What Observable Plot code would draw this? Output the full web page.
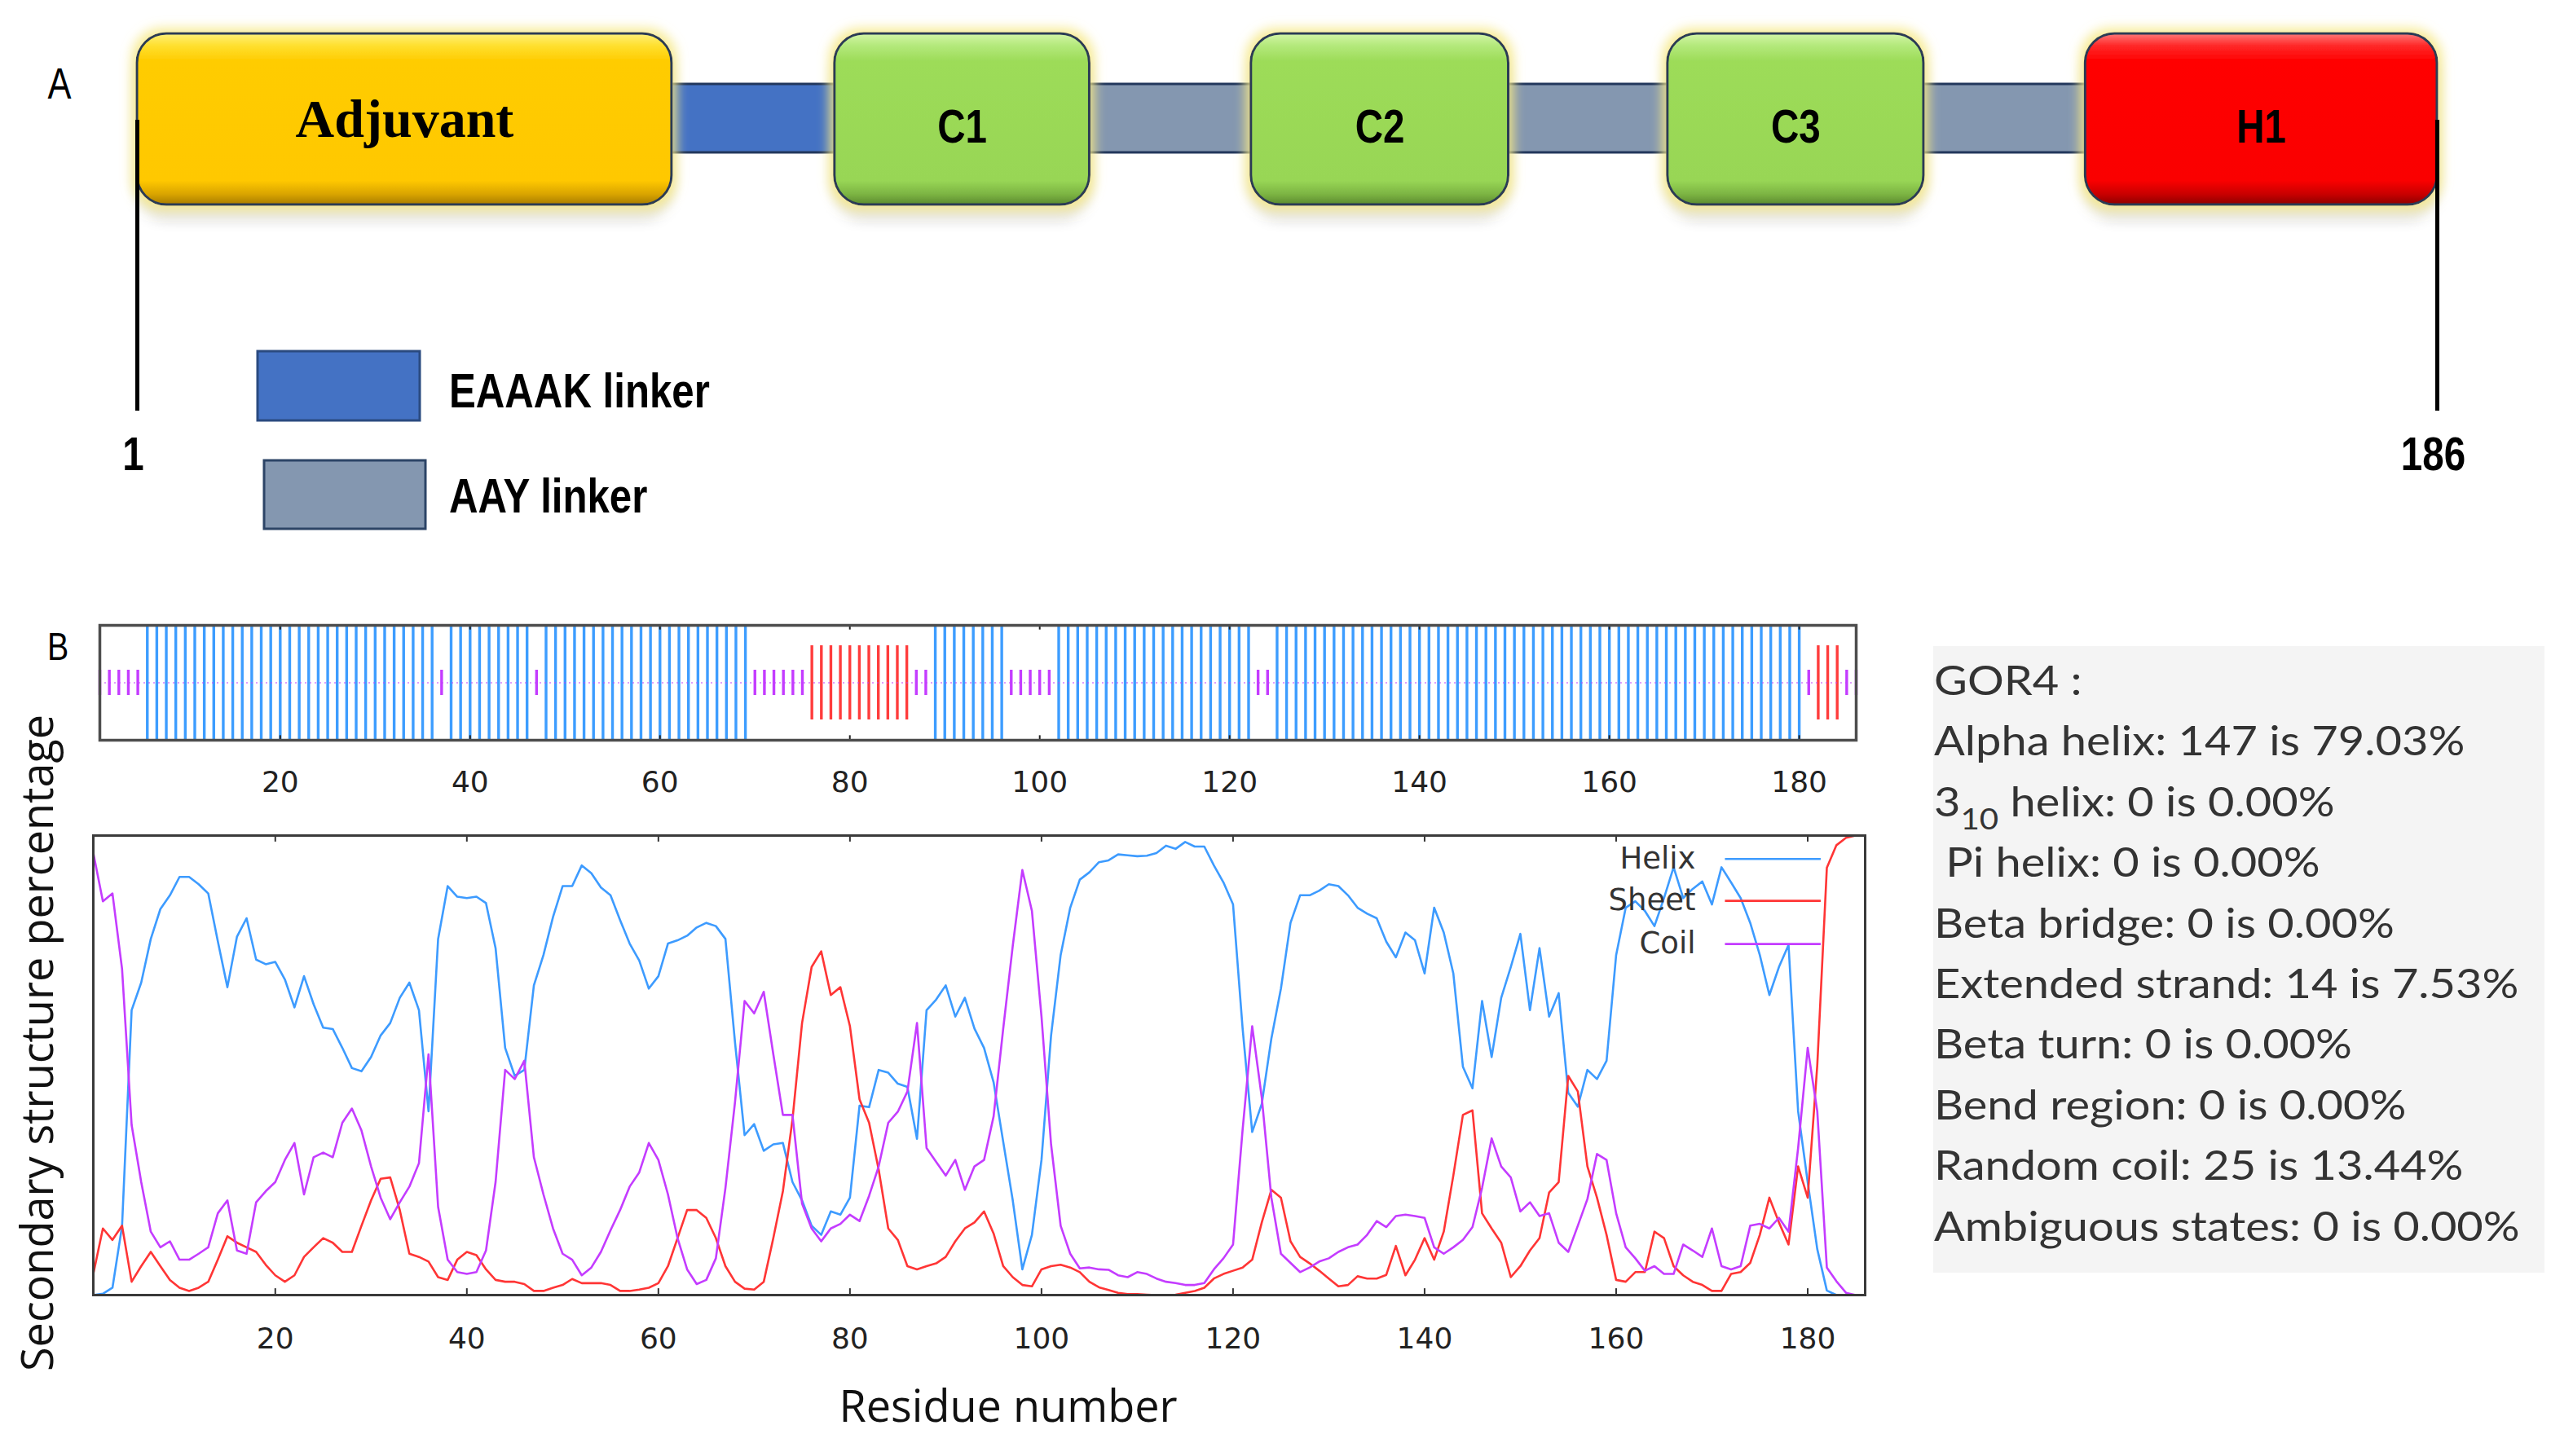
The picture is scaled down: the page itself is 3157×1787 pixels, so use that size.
<!DOCTYPE html>
<html><head><meta charset="utf-8">
<script src="https://cdn.jsdelivr.net/npm/d3@7"></script>
<script src="https://cdn.jsdelivr.net/npm/@observablehq/plot@0.6"></script>
<style>
html,body{margin:0;padding:0;background:#fff;overflow:hidden}
#page{position:relative;width:3157px;height:1787px;background:#fff}
.layer{position:absolute;left:0}
</style></head><body><div id="page"></div>
<script>
// ---------------- DATA ----------------
// Panel A: construct schematic (segment ends in residue units along the 1..186 bar)
const domainNames = ["Adjuvant", "EAAAK linker", "C1", "AAY linker", "C2", "AAY linker", "C3", "AAY linker", "H1"];
const domainKinds = ["adjuvant", "eaaak", "ctl", "aay", "ctl", "aay", "ctl", "aay", "htl"];
const domainEnds  = [44.0, 57.1, 77.6, 90.6, 111.3, 124.1, 144.7, 157.7, 186];
const sequenceEnds = [1, 186];
const legendNames = ["EAAAK linker", "AAY linker"];

// Panel B: secondary-structure strip (run-length segments)
const stripStates = ["C","H","C","H","C","H","C","E","C","H","C","H","C","H","C","E","C"];
const stripStarts = [1, 6, 37, 38, 47, 48, 70, 76, 87, 89, 97, 102, 123, 125, 181, 182, 185];
const stripEnds   = [5, 36, 37, 46, 47, 69, 75, 86, 88, 96, 101, 122, 124, 180, 181, 184, 186];

// Panel B: per-residue probabilities (%), residues 1..186
const seriesNames = ["Helix", "Sheet", "Coil"];
const helix = [0,0.3,1.6,15,62,68,77.5,84,87,91,
  91,89.4,87.4,77,67,78,82,73,72,72.5,
  68.7,62.6,69.4,63.3,58.2,57.9,53.8,49.4,48.7,51.8,
  56.5,59.2,64.7,68,62,40,77.5,89,86.7,86.4,
  86.7,85.3,75.5,53.8,47.7,49,67.4,74,82.3,89,
  89,93.5,91.8,88.7,87,81.6,76.5,72.8,66.7,69.4,
  76.5,77.2,78.2,80,81,80.3,77.5,55,34.8,37.2,
  31.4,32.8,33.1,24.6,20.6,15.1,13.1,18.2,17.5,21.2,
  41.2,40.9,49,48.4,46,45.3,34,62,64.3,67.4,
  60.6,64.7,58,53.8,46.3,33.4,20.6,5.6,13.1,29.4,
  56.5,74,84.3,90.4,92,94.2,94.6,95.9,95.7,95.5,
  95.6,96.2,97.8,97.1,98.6,97.6,97.6,93.5,89.8,85,
  58,35.5,41.6,55.8,66.7,81,87,87,88,89.4,
  89,87,84.3,83,82,76.9,73.5,78.9,77.2,70,
  84.3,78.9,70,49.7,45,64,51.8,64.7,71.4,78.6,
  62,75.5,60.6,65.7,44,41,49,47,51,74,
  84.3,85.7,83.6,80.3,86.4,93.1,86.4,88.4,90,85,
  93.1,89.8,86.4,81,74,65.3,71.4,76.2,40,24.6,
  10,1,0,0,0,0];
const sheet = [4.6,14.5,12,15.1,2.9,6.3,9.4,6.3,3.3,1.6,
  0.9,1.6,2.9,7.7,12.8,11.4,10.4,9.4,6.6,4.3,
  2.9,4.3,8.3,10.4,12.4,11.4,9.4,9.4,15.1,20.6,
  25.3,25.6,18.5,9,8.3,7.3,3.9,3.3,7.7,9.4,
  8.7,5.6,3.3,2.9,2.9,2.4,0.9,0.9,1.6,2.2,
  3.5,2.6,2.6,2.6,2.2,0.9,0.9,1.2,1.6,2.6,
  6.3,12.4,18.5,18.5,16.8,12.4,6.3,2.9,1.4,1.2,
  2.9,12.4,22.6,38.2,59.2,71.4,74.8,65.3,67,58.5,
  42.6,37.5,27.3,14.5,12,6.3,5.6,6.3,6.9,8.3,
  11.7,14.5,15.8,18.2,13.4,6.3,3.9,2.2,1.9,5.6,
  6.3,6.6,6,5,2.9,1.7,1.1,0.5,0.2,0.2,
  0.1,0,0,0.1,0.5,0.9,1.6,3.6,4.6,5.3,
  6,7.7,15.8,22.9,21.2,11.7,8.3,6.9,5.3,3.6,
  1.9,2.2,4.1,3.6,3.6,4.4,10.7,4.3,7.7,12.4,
  7.7,13.8,26,39.2,40.2,17.8,14.5,11.4,3.9,6.3,
  9.7,12.4,22.3,24.6,47.7,44.3,28,21.2,13.1,3.3,
  2.9,5,5,13.8,12.4,6.3,4.3,2.9,2.2,0.9,
  0.9,4.6,5,7,13.1,21.2,15.8,11,28,21.2,
  50,93,97.9,99.5,100,100];
const coil = [96.2,85.7,87.4,71,37,24.6,13.8,10.4,11.7,7.7,
  7.7,9,10.4,17.8,20.6,9.7,9,20.2,22.6,24.6,
  29.4,33.1,21.9,30,31,30,37.5,40.6,35.8,28,
  21.2,16.5,20.2,23.6,28.7,52.4,19.2,7.7,5,4.6,
  5,9.7,24.6,49,47,51,30,21.9,14.5,9,
  7.7,4.3,6,9.4,14.1,18.5,23.6,26.7,33.1,29.4,
  21.9,12.4,5.6,2.4,3.3,8,23.3,42,64,61.3,
  66,52.4,39.2,39.2,19.9,14.5,11.7,14.5,15.5,17.5,
  16.1,21.6,28,37.5,39.9,44.3,59.2,32,29,26,
  29.4,22.9,28,29.4,38.9,57.9,76,92.5,83.6,60.6,
  32.8,15.1,9,5.8,6,5.6,5.5,4.3,3.9,5,
  4.6,3.6,2.9,2.6,2.2,2.2,2.6,5.6,8,11,
  36,58.5,43,21.2,9,7,5,6,7.3,8,
  9.4,10.4,11,13.1,16.1,14.8,17.2,17.5,17.2,16.8,
  10.4,9,10.4,12,14.8,23.3,34.1,28,25.6,18.2,
  20.2,17.2,17.8,11.4,9.4,15.1,20.9,30.7,29.4,17.8,
  10.4,8,5.3,6.3,4.6,4.6,11,9.7,8.3,14.5,
  6.3,5.6,6.3,15.1,15.5,14.5,16.8,13.8,32,53.8,
  40,6,3,0.5,0,0];
const xTicks = [20, 40, 60, 80, 100, 120, 140, 160, 180];

// GOR4 summary
const gorTitle = "GOR4 :";
const gorClasses  = ["Alpha helix", "3_10 helix", " Pi helix", "Beta bridge", "Extended strand", "Beta turn", "Bend region", "Random coil", "Ambiguous states"];
const gorCounts   = [147, 0, 0, 0, 14, 0, 0, 25, 0];
const gorPercents = ["79.03", "0.00", "0.00", "0.00", "7.53", "0.00", "0.00", "13.44", "0.00"];

// ---------------- STYLES ----------------
const stateColor = {H: "#3d9dff", E: "#ff3c3c", C: "#c43cff"};
const stateHalf = {H: 0.5, E: 0.323, C: 0.11};
const seriesColor = {Helix: "#3d9bff", Sheet: "#ff3535", Coil: "#c43cff"};
const fillFor = {adjuvant: "url(#g-adjuvant)", ctl: "url(#g-ctl)", htl: "url(#g-htl)", eaaak: "#4472c4", aay: "#8497b0"};
const LA = {boxTop: 41, boxBot: 251, linkTop: 103, linkBot: 187, lineTop: 147, lineBot: 504, labelBase: 174, adjBase: 167, endBase: 576};
const legendLayout = {textX: 168.3, lineX1: 171.4, lineX2: 181.4, rowY: [94.9, 85.8, 76.4]};
const SANS = "'Liberation Sans', Arial, sans-serif";

const page = document.getElementById("page");
function place(el, top) { const d = document.createElement("div"); d.className = "layer"; d.style.top = top + "px"; d.appendChild(el); page.appendChild(d); return el; }
function narrowNode(node, k) {
  const t = node.getAttribute("transform");
  if (t) node.setAttribute("transform", t + ` scale(${k},1)`);
  else {
    const x = node.getAttribute("x") || 0, y = node.getAttribute("y") || 0;
    node.removeAttribute("x"); node.removeAttribute("y");
    node.setAttribute("transform", `translate(${x},${y}) scale(${k},1)`);
  }
}

// ---------------- PANEL A ----------------
const boxKinds = new Set(["adjuvant", "ctl", "htl"]);
const segments = domainNames.map((name, i) => ({name, kind: domainKinds[i], x1: i === 0 ? sequenceEnds[0] : domainEnds[i - 1], x2: domainEnds[i]}));
const boxes = segments.filter(d => boxKinds.has(d.kind));
const linkers = segments.filter(d => !boxKinds.has(d.kind));

const panelA = Plot.plot({
  width: 3157, height: 680, marginTop: 0, marginBottom: 0, marginLeft: 168, marginRight: 167,
  x: {domain: [1, 186]}, y: {domain: [0, 680], range: [0, 680]},
  color: {type: "identity"}, axis: null,
  style: {background: "transparent", overflow: "visible"},
  marks: [
    Plot.rect(linkers, {x1: "x1", x2: "x2", y1: LA.linkTop, y2: LA.linkBot, fill: d => fillFor[d.kind], stroke: "#22375c", strokeWidth: 3, insetLeft: -14, insetRight: -14}),
    Plot.rect(boxes, {x1: "x1", x2: "x2", y1: LA.boxTop, y2: LA.boxBot, fill: d => fillFor[d.kind], stroke: "#2b3a55", strokeWidth: 3, rx: 36}),
    Plot.text(boxes.filter(d => d.kind === "adjuvant"), {x: d => (d.x1 + d.x2) / 2, y: LA.adjBase - 0.32 * 66, text: "name", fontFamily: "'Liberation Serif', 'DejaVu Serif', serif", fontWeight: "bold", fontSize: 66, fill: "#000"}),
    Plot.text(boxes.filter(d => d.kind !== "adjuvant"), {x: d => (d.x1 + d.x2) / 2, y: LA.labelBase - 0.32 * 58, text: "name", fontFamily: SANS, fontWeight: "bold", fontSize: 58, fill: "#000"}),
    Plot.ruleX(sequenceEnds, {y1: LA.lineTop, y2: LA.lineBot, stroke: "#000", strokeWidth: 5}),
    Plot.text(sequenceEnds, {x: d => d, y: LA.endBase - 0.32 * 58, text: d => String(d), dx: -5, fontFamily: SANS, fontWeight: "bold", fontSize: 58, fill: "#000"})
  ]
});
place(panelA, 0);
{
  const svg = d3.select(panelA);
  const defs = svg.insert("defs", ":first-child");
  const grad = (id, stops) => { const g = defs.append("linearGradient").attr("id", id).attr("x1", 0).attr("y1", 0).attr("x2", 0).attr("y2", 1); stops.forEach(([o, c]) => g.append("stop").attr("offset", o).attr("stop-color", c)); };
  grad("g-adjuvant", [[0, "#fff07a"], [0.07, "#ffe030"], [0.16, "#ffcc00"], [0.86, "#ffc800"], [0.94, "#d9a400"], [1, "#a87c00"]]);
  grad("g-ctl", [[0, "#d4f5a8"], [0.07, "#b4e97c"], [0.16, "#9ddc59"], [0.86, "#98d655"], [0.94, "#7cb443"], [1, "#5b8a2e"]]);
  grad("g-htl", [[0, "#ff7a7a"], [0.07, "#ff2a2a"], [0.16, "#ff0000"], [0.86, "#fa0000"], [0.94, "#c80000"], [1, "#8e0000"]]);
  const f = defs.append("filter").attr("id", "glow").attr("filterUnits", "userSpaceOnUse").attr("x", 0).attr("y", 0).attr("width", 3157).attr("height", 400);
  f.append("feMorphology").attr("in", "SourceAlpha").attr("operator", "dilate").attr("radius", 5).attr("result", "dil");
  f.append("feGaussianBlur").attr("in", "dil").attr("stdDeviation", 7).attr("result", "blur");
  f.append("feFlood").attr("flood-color", "#f6e98a").attr("flood-opacity", 0.9).attr("result", "fc");
  f.append("feComposite").attr("in", "fc").attr("in2", "blur").attr("operator", "in").attr("result", "glow");
  f.append("feGaussianBlur").attr("in", "SourceAlpha").attr("stdDeviation", 8).attr("result", "sb");
  f.append("feOffset").attr("in", "sb").attr("dy", 16).attr("result", "so");
  f.append("feFlood").attr("flood-color", "#000").attr("flood-opacity", 0.22).attr("result", "sc");
  f.append("feComposite").attr("in", "sc").attr("in2", "so").attr("operator", "in").attr("result", "shadow");
  const m = f.append("feMerge");
  m.append("feMergeNode").attr("in", "shadow"); m.append("feMergeNode").attr("in", "glow"); m.append("feMergeNode").attr("in", "SourceGraphic");
  // boxes: the rects filled with a gradient
  panelA.querySelectorAll("rect").forEach(r => {
    const fill = r.getAttribute("fill") || "";
    if (fill.indexOf("url(#g-") === 0) { r.setAttribute("rx", 36); r.setAttribute("ry", 36); r.setAttribute("filter", "url(#glow)"); }
  });
  // condensed labels (everything except "Adjuvant")
  const narrowSet = new Set(boxes.filter(d => d.kind !== "adjuvant").map(d => d.name).concat(sequenceEnds.map(String)));
  panelA.querySelectorAll("text").forEach(t => { if (narrowSet.has(t.textContent.trim())) narrowNode(t, 0.82); });
}

// ---------------- PANEL B: strip ----------------
const stripResidues = stripStates.flatMap((s, i) => d3.range(stripStarts[i], stripEnds[i] + 1).map(r => ({r, state: s})));
const strip = Plot.plot({
  width: 2320, height: 260, marginTop: 27, marginBottom: 92, marginLeft: 122, marginRight: 43,
  x: {domain: [1, 186]}, y: {domain: [0, 1]}, color: {type: "identity"}, axis: null,
  style: {background: "transparent", overflow: "visible"},
  marks: [
    Plot.ruleX(stripResidues, {x: "r", y1: d => 0.5 - stateHalf[d.state], y2: d => 0.5 + stateHalf[d.state], stroke: d => stateColor[d.state], strokeWidth: 3.4}),
    Plot.ruleY([0.5], {stroke: stateColor.C, strokeWidth: 1.2, strokeDasharray: "2,4"}),
    Plot.ruleX(xTicks, {y1: 0, y2: 0.04, stroke: "#222", strokeWidth: 2}),
    Plot.ruleX(xTicks, {y1: 0.96, y2: 1, stroke: "#222", strokeWidth: 2}),
    Plot.frame({stroke: "#4d4d4d", strokeWidth: 3.5}),
    Plot.text(xTicks, {x: d => d, y: 0, dy: 52, text: d => String(d), fontFamily: "'DejaVu Sans', sans-serif", fontSize: 36, fill: "#222"})
  ]
});
place(strip, 740);

// ---------------- PANEL B: probability lines ----------------
const residues = d3.range(1, 187);
const lineRows = seriesNames.flatMap(s => {
  const vals = s === "Helix" ? helix : s === "Sheet" ? sheet : coil;
  return residues.map((r, i) => ({r, s, v: vals[i]}));
});
const legendRows = seriesNames.map((s, i) => ({s, y: legendLayout.rowY[i]}));
const lines = Plot.plot({
  width: 2320, height: 760, marginTop: 25, marginBottom: 171, marginLeft: 114, marginRight: 32,
  x: {domain: [1, 186]}, y: {domain: [0, 100]}, color: {type: "identity"}, axis: null,
  style: {background: "transparent", overflow: "visible"},
  marks: [
    Plot.lineY(lineRows, {x: "r", y: "v", z: "s", stroke: d => seriesColor[d.s], strokeWidth: 2.6}),
    Plot.ruleX(xTicks, {y1: 0, y2: 1.4, stroke: "#333", strokeWidth: 2}),
    Plot.ruleX(xTicks, {y1: 98.6, y2: 100, stroke: "#333", strokeWidth: 2}),
    Plot.frame({stroke: "#3a3a3a", strokeWidth: 3}),
    Plot.text(xTicks, {x: d => d, y: 0, dy: 54, text: d => String(d), fontFamily: "'DejaVu Sans', sans-serif", fontSize: 36, fill: "#222"}),
    Plot.text(legendRows, {x: legendLayout.textX, y: "y", text: "s", textAnchor: "end", fontFamily: "'DejaVu Sans', sans-serif", fontSize: 37, fill: "#333"}),
    Plot.ruleY(legendRows, {y: "y", x1: legendLayout.lineX1, x2: legendLayout.lineX2, stroke: d => seriesColor[d.s], strokeWidth: 2.6})
  ]
});
place(lines, 1000);

// ---------------- OVERLAY TEXT ----------------
const ov = d3.create("svg").attr("width", 3157).attr("height", 1787).style("position", "absolute").style("left", 0).style("top", 0);
function ntext(x, y, str, size, weight, k, anchor) {
  return ov.append("text").attr("transform", `translate(${x},${y}) scale(${k},1)`).attr("text-anchor", anchor || "start")
    .attr("font-family", SANS).attr("font-size", size).attr("font-weight", weight).attr("fill", "#000").text(str);
}
ntext(73, 120.5, "A", 53, "normal", 0.82, "middle");
ntext(71, 810, "B", 48, "normal", 0.82, "middle");
// linker legend
ov.append("rect").attr("x", 316).attr("y", 431).attr("width", 199).attr("height", 85).attr("fill", fillFor.eaaak).attr("stroke", "#2a4a80").attr("stroke-width", 3);
ov.append("rect").attr("x", 324).attr("y", 565).attr("width", 198).attr("height", 84).attr("fill", fillFor.aay).attr("stroke", "#2c4466").attr("stroke-width", 3);
ntext(551, 500, legendNames[0], 60, "bold", 0.82);
ntext(551, 629, legendNames[1], 60, "bold", 0.82);
// axis titles
ov.append("text").attr("transform", "translate(65,1280) rotate(-90)").attr("text-anchor", "middle")
  .attr("font-family", "'Open Sans', sans-serif").attr("font-size", 54).attr("fill", "#111").text("Secondary structure percentage");
ov.append("text").attr("x", 1237).attr("y", 1745).attr("text-anchor", "middle")
  .attr("font-family", "'Open Sans', sans-serif").attr("font-size", 54).attr("fill", "#111").text("Residue number");
// GOR4 block
ov.append("rect").attr("x", 2372).attr("y", 793).attr("width", 750).attr("height", 769).attr("fill", "#f4f4f4");
const gorLines = [gorTitle].concat(gorClasses.map((c, i) => `${c}: ${gorCounts[i]} is ${gorPercents[i]}%`));
gorLines.forEach((line, i) => {
  const t = ov.append("text").attr("transform", `translate(2373,${853 + i * 74.4}) scale(1.12,1)`)
    .attr("font-family", "Lato, 'Open Sans', sans-serif").attr("font-size", 50).attr("fill", "#333").style("white-space", "pre");
  const m = line.match(/^(\d)_(\d+)(.*)$/);
  if (m) {
    t.append("tspan").text(m[1]);
    t.append("tspan").attr("dy", 16).attr("font-size", 36).text(m[2]);
    t.append("tspan").attr("dy", -16).text(m[3]);
  } else t.text(line);
});
page.appendChild(ov.node());
</script></body></html>
